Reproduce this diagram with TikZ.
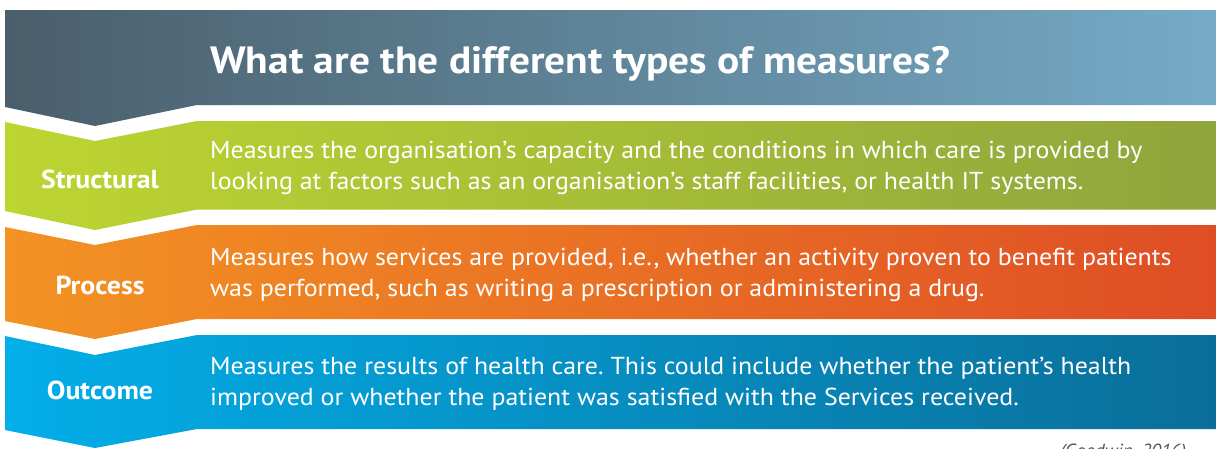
\documentclass[tikz,border=0pt]{standalone}
\usepackage{fontspec}
\setmainfont{PT Sans}
\newfontfamily\bodyfont[FakeStretch=1.057]{PT Sans}
\newfontfamily\titlefont[FakeStretch=1.09]{PT Sans}
\newfontfamily\labelfont[FakeStretch=1.07]{PT Sans}
\definecolor{hdL}{HTML}{4A5E6B}
\definecolor{hdR}{HTML}{75ABC7}
\definecolor{stL}{HTML}{BDD531}
\definecolor{stR}{HTML}{8FA53D}
\definecolor{prL}{HTML}{F39323}
\definecolor{prR}{HTML}{DF4D25}
\definecolor{ouL}{HTML}{03AEE9}
\definecolor{ouR}{HTML}{0A6E99}
\definecolor{citegray}{HTML}{555555}
\frenchspacing
\begin{document}
\begin{tikzpicture}[x=1pt,y=-1pt,
  bodytext/.style={anchor=base west, inner sep=0pt, text=white, font=\bodyfont\fontsize{24.5}{31}\selectfont},
  labeltext/.style={anchor=base, inner sep=0pt, text=white, font=\labelfont\bfseries\fontsize{26}{31}\selectfont},
  titletext/.style={anchor=base west, inner sep=0pt, text=white, font=\titlefont\bfseries\fontsize{38}{44}\selectfont},
  citetext/.style={anchor=base west, inner sep=0pt, text=citegray, font=\itshape\fontsize{19}{22}\selectfont}]
\useasboundingbox (0,0) rectangle (1216,448);
\fill[white] (0,0) rectangle (1216,448);
% header band
\shade[left color=hdL, right color=hdR] (5,10) -- (1216,10) -- (1216,105) -- (197,105) -- (95,126) -- (5,107) -- cycle;
% structural band
\shade[left color=stL, right color=stR] (5,122) -- (95,141) -- (197,121) -- (1216,121) -- (1216,209.5) -- (197,209.5) -- (95,230) -- (5,211) -- cycle;
% process band
\shade[left color=prL, right color=prR] (5,227) -- (95,245) -- (197,225) -- (1216,225) -- (1216,319) -- (197,319) -- (95,339) -- (5,321) -- cycle;
% outcome band
\shade[left color=ouL, right color=ouR] (5,336) -- (95,355) -- (197,335) -- (1216,335) -- (1216,429) -- (197,429) -- (95,448) -- (5,430) -- cycle;
% title
\node[titletext] (title) at (210,73) {What are the different types of measures?};
% labels
\node[labeltext] (lstruct) at (100,188) {Structural};
\node[labeltext] (lproc) at (100,294) {Process};
\node[labeltext] (lout) at (100,399) {Outcome};
% body texts
\node[bodytext] (s1) at (210,158) {Measures the organisation’s capacity and the conditions in which care is provided by};
\node[bodytext] (s2) at (210,189) {looking at factors such as an organisation’s staff facilities, or health IT systems.};
\node[bodytext] (p1) at (210,265) {Measures how services are provided, i.e., whether an activity proven to benefit patients};
\node[bodytext] (p2) at (210,296) {was performed, such as writing a prescription or administering a drug.};
\node[bodytext] (o1) at (210,374) {Measures the results of health care. This could include whether the patient’s health};
\node[bodytext] (o2) at (210,405) {improved or whether the patient was satisfied with the Services received.};
% citation (cut off by the lower edge, as in the reference)
\node[citetext] (cite) at (1060,457) {(Goodwin, 2016)};
\end{tikzpicture}
\end{document}
